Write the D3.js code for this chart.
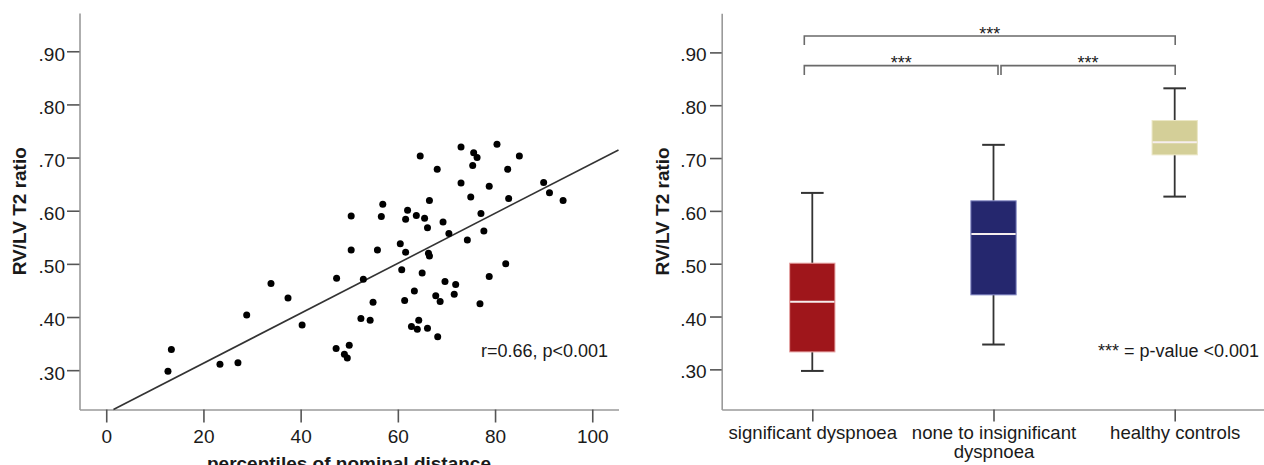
<!DOCTYPE html>
<html>
<head>
<meta charset="utf-8">
<script src="https://cdn.jsdelivr.net/npm/d3@7"></script>
<style>
  html, body { margin: 0; padding: 0; background: #fff; }
  svg { display: block; }
  text { font-family: "Liberation Sans", Arial, sans-serif; fill: #1a1a1a; }
</style>
</head>
<body>
<svg id="chart" width="1264" height="465"></svg>
<script>
// ---------- data: scatter (percentiles of nominal distance vs RV/LV T2 ratio)
const scatterX = [12.7,13.4,23.4,27.1,28.9,33.9,37.4,40.3,47.3,50.0,49.0,49.6,47.4,50.4,50.4,52.9,52.4,54.3,54.9,55.8,
  56.6,56.9,60.5,61.6,60.8,61.4,62.0,61.6,63.4,62.8,64.0,64.3,63.8,64.6,65.0,65.5,66.1,66.5,66.3,66.5,
  66.1,67.8,68.7,68.2,68.1,69.3,69.7,70.5,71.6,71.9,73.0,73.0,74.3,75.0,75.6,76.3,75.4,77.1,77.7,76.9,
  78.8,78.8,80.4,82.2,82.6,82.8,85.0,90.0,91.2,94.0];
const scatterY = [0.298,0.339,0.311,0.314,0.404,0.463,0.436,0.385,0.341,0.347,0.330,0.323,0.473,0.590,0.526,0.471,0.397,0.394,0.428,0.526,
  0.589,0.612,0.538,0.522,0.489,0.431,0.601,0.584,0.449,0.382,0.377,0.394,0.591,0.703,0.483,0.586,0.568,0.619,0.520,0.515,
  0.379,0.440,0.429,0.363,0.678,0.579,0.467,0.557,0.443,0.461,0.720,0.652,0.545,0.626,0.709,0.700,0.685,0.595,0.562,0.425,
  0.476,0.646,0.725,0.500,0.678,0.623,0.703,0.653,0.634,0.619];
const fitIntercept = 0.219;
const fitSlope = 0.00470;
const scatterXTicks = [0, 20, 40, 60, 80, 100];
const ratioTicks = [0.30, 0.40, 0.50, 0.60, 0.70, 0.80, 0.90];
const scatterNote = "r=0.66, p<0.001";

// ---------- data: box plot
const groups = ["significant dyspnoea", "none to insignificant dyspnoea", "healthy controls"];
const groupLabelLines = [["significant dyspnoea"], ["none to insignificant", "dyspnoea"], ["healthy controls"]];
const boxMin    = [0.297, 0.347, 0.627];
const boxQ1     = [0.333, 0.441, 0.706];
const boxMedian = [0.428, 0.556, 0.730];
const boxQ3     = [0.501, 0.619, 0.771];
const boxMax    = [0.634, 0.725, 0.832];
const boxFill   = ["#9f161b", "#25276e", "#d4cf98"];
const boxEdge   = ["#e6a3a3", "#8287c4", "#ebe7c6"];
// significance brackets: [from group, to group, bar level, leg end, label]
const bracketFrom = [0, 0, 1];
const bracketTo   = [2, 1, 2];
const bracketLevel = [0.931, 0.875, 0.875];
const bracketLeg   = [0.914, 0.857, 0.857];
const bracketText  = ["***", "***", "***"];
const boxNote = "*** = p-value <0.001";

const svg = d3.select("#chart");
const fmt = v => d3.format(".2f")(v).replace(/^0/, "");
const FONT = 19;

function styleAxis(g) {
  g.select(".domain").attr("stroke", "#9a9a9a").attr("stroke-width", 1.6);
  g.selectAll(".tick line").attr("stroke", "#555").attr("stroke-width", 1.6);
  g.selectAll(".tick text").attr("font-size", FONT).attr("fill", "#1a1a1a")
    .attr("font-family", '"Liberation Sans", Arial, sans-serif');
}

// ================= LEFT: scatter =================
const xS = d3.scaleLinear().domain([-5.5, 105.4]).range([79.5, 618.5]);
const yS = d3.scaleLinear().domain([0.226, 0.972]).range([409.5, 13]);

const gxL = svg.append("g").attr("transform", `translate(0,${yS.range()[0]})`)
  .call(d3.axisBottom(xS).tickValues(scatterXTicks).tickSize(13).tickPadding(7).tickSizeOuter(0));
styleAxis(gxL);
const gyL = svg.append("g").attr("transform", `translate(${xS.range()[0]},0)`)
  .call(d3.axisLeft(yS).tickValues(ratioTicks).tickFormat(fmt).tickSize(12.5).tickPadding(2).tickSizeOuter(0));
styleAxis(gyL);
gyL.selectAll(".tick text").attr("dy", "0.47em");

// regression line, clipped to the plot area
const yLo = yS.domain()[0];
const xStart = (yLo - fitIntercept) / fitSlope;
const xEnd = xS.domain()[1];
svg.append("line")
  .attr("x1", xS(xStart)).attr("y1", yS(fitIntercept + fitSlope * xStart))
  .attr("x2", xS(xEnd)).attr("y2", yS(fitIntercept + fitSlope * xEnd))
  .attr("stroke", "#333").attr("stroke-width", 1.6);

svg.append("g").selectAll("circle")
  .data(scatterX.map((x, i) => [x, scatterY[i]]))
  .join("circle")
  .attr("cx", d => xS(d[0])).attr("cy", d => yS(d[1]))
  .attr("r", 3.5).attr("fill", "#000");

svg.append("text").attr("x", 608).attr("y", 357).attr("text-anchor", "end")
  .attr("font-size", 18).text(scatterNote);

svg.append("text")
  .attr("transform", `translate(26,${(yS.range()[0] + yS.range()[1]) / 2}) rotate(-90)`)
  .attr("text-anchor", "middle").attr("font-size", FONT).attr("font-weight", "bold")
  .text("RV/LV T2 ratio");

svg.append("text").attr("x", (xS.range()[0] + xS.range()[1]) / 2).attr("y", 469.5)
  .attr("text-anchor", "middle").attr("font-size", FONT).attr("font-weight", "bold")
  .text("percentiles of nominal distance");

// ================= RIGHT: box plot =================
const xB = d3.scalePoint().domain(groups).range([721.7, 1265.3]).padding(0.5);
const yB = d3.scaleLinear().domain([0.224, 0.974]).range([409.5, 13.3]);
const step = xB.step();
const boxW = step * 0.25;
const capW = boxW * 0.5;

const gxR = svg.append("g").attr("transform", `translate(0,${yB.range()[0]})`)
  .call(d3.axisBottom(xB).tickSize(12).tickPadding(4.5).tickSizeOuter(0));
styleAxis(gxR);
gxR.selectAll(".tick text").attr("font-size", 18.6).each(function(d, i) {
  const t = d3.select(this);
  t.text(null);
  groupLabelLines[i].forEach((line, k) => {
    t.append("tspan").attr("x", 0).attr("dy", k === 0 ? "0.71em" : "1.02em").text(line);
  });
});

const gyR = svg.append("g").attr("transform", `translate(${xB.range()[0]},0)`)
  .call(d3.axisLeft(yB).tickValues(ratioTicks).tickFormat(fmt).tickSize(11.7).tickPadding(3.3).tickSizeOuter(0));
styleAxis(gyR);
gyR.selectAll(".tick text").attr("dy", "0.45em");

svg.append("text")
  .attr("transform", `translate(668.5,${(yB.range()[0] + yB.range()[1]) / 2}) rotate(-90)`)
  .attr("text-anchor", "middle").attr("font-size", FONT).attr("font-weight", "bold")
  .text("RV/LV T2 ratio");

const boxes = svg.append("g").selectAll("g").data(groups).join("g");
boxes.each(function(gname, i) {
  const g = d3.select(this);
  const cx = xB(gname);
  g.append("line").attr("x1", cx).attr("x2", cx).attr("y1", yB(boxMax[i])).attr("y2", yB(boxQ3[i]))
    .attr("stroke", "#333").attr("stroke-width", 1.8);
  g.append("line").attr("x1", cx).attr("x2", cx).attr("y1", yB(boxQ1[i])).attr("y2", yB(boxMin[i]))
    .attr("stroke", "#333").attr("stroke-width", 1.8);
  [boxMax[i], boxMin[i]].forEach(v => {
    g.append("line").attr("x1", cx - capW / 2).attr("x2", cx + capW / 2)
      .attr("y1", yB(v)).attr("y2", yB(v)).attr("stroke", "#333").attr("stroke-width", 2);
  });
  g.append("rect").attr("x", cx - boxW / 2).attr("width", boxW)
    .attr("y", yB(boxQ3[i])).attr("height", yB(boxQ1[i]) - yB(boxQ3[i]))
    .attr("fill", boxFill[i]).attr("stroke", boxEdge[i]).attr("stroke-width", 1);
  g.append("line").attr("x1", cx - boxW / 2 + 0.5).attr("x2", cx + boxW / 2 - 0.5)
    .attr("y1", yB(boxMedian[i])).attr("y2", yB(boxMedian[i]))
    .attr("stroke", "#f6eeee").attr("stroke-width", 2);
});

// significance brackets
const legShift = [-8, 6, 0.5]; // small horizontal offsets of bracket legs per group
const br = svg.append("g");
bracketFrom.forEach((f, k) => {
  const t = bracketTo[k];
  const xa = xB(groups[f]) + legShift[f] + (f === 1 ? 1.5 : 0);
  const xb = xB(groups[t]) + (t === 1 ? legShift[t] - 1.5 : legShift[t]);
  const yl = yB(bracketLevel[k]), yg = yB(bracketLeg[k]);
  br.append("path")
    .attr("d", `M${xa},${yg}V${yl}H${xb}V${yg}`)
    .attr("fill", "none").attr("stroke", "#6a6a6a").attr("stroke-width", 1.6);
  br.append("text").attr("x", (xa + xb) / 2).attr("y", yl + 3.5)
    .attr("text-anchor", "middle").attr("font-size", 18).text(bracketText[k]);
});

svg.append("text").attr("x", 1259).attr("y", 357).attr("text-anchor", "end")
  .attr("font-size", 18).attr("xml:space", "preserve").text(boxNote);
</script>
</body>
</html>
